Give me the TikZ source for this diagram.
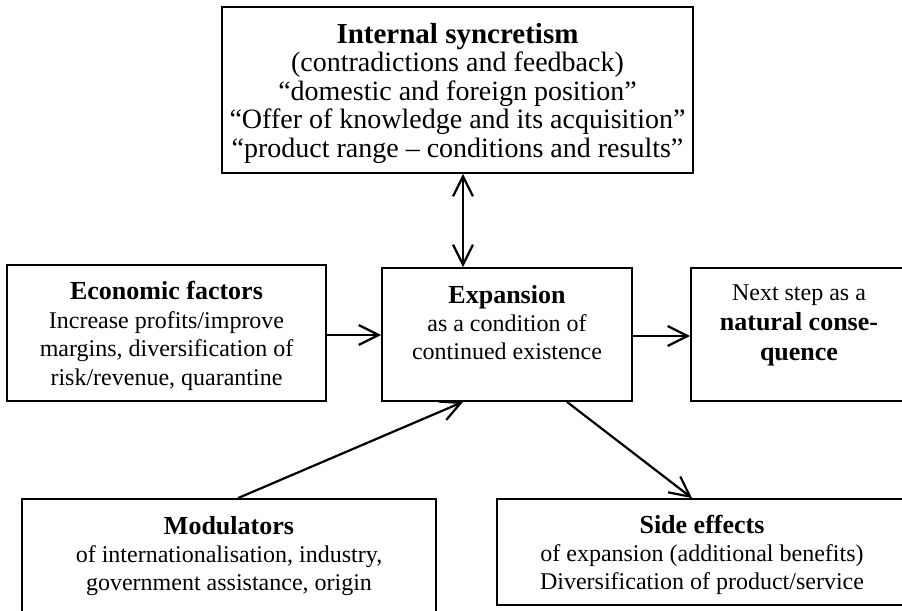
\documentclass[tikz,border=0pt]{standalone}
\usepackage{fontspec}
\setmainfont{Liberation Serif}
\usetikzlibrary{arrows.meta}
\usetikzlibrary{positioning}

\newcommand{\kop}[1]{{\fontsize{13}{14.2}\selectfont\bfseries #1}}
\newcommand{\omhoog}[1]{\rule{0pt}{#1}}
\newcommand{\omlaag}[1]{\rule[-#1]{0pt}{0pt}}

\tikzset{
  blok/.style={draw,line width=0.9pt,inner sep=0pt,align=center,
    font=\fontsize{12}{14.2}\selectfont},
  pijl/.style={line width=1.1pt},
  >={Straight Barb[length=10pt,width=10pt]}
}

\begin{document}
\begin{tikzpicture}[x=0.5pt,y=-0.5pt]
      \useasboundingbox (0,0) rectangle (902,611);
      \node[blok,minimum width=235.5pt,minimum height=83pt,font=\fontsize{14}{14.25}\selectfont] (synch) at (457.5,90)
        {\omhoog{13.3pt}{\fontsize{14.5}{14.25}\selectfont\bfseries Internal syncretism}\\(contradictions and feedback)\\
         “domestic and foreign position”\\“Offer of knowledge and its acquisition”\\“product range – conditions and results”};
      \node[blok,minimum width=159.5pt,minimum height=68pt] (econ) at (166.5,333)
        {\omhoog{12pt}\kop{Economic factors}\\Increase profits/improve\\margins, diversification of\\risk/revenue, quarantine};
      \node[blok,minimum width=125pt,minimum height=66.5pt] (expan) at (507,334.5)
        {\kop{Expansion}\\as a condition of\\continued existence\omlaag{12pt}};
      \node[blok,minimum width=108pt,minimum height=66.5pt,font=\fontsize{12}{15}\selectfont] (next) at (799,334.5)
        {Next step as a\\\kop{natural conse-}\\\kop{quence}\omlaag{12.2pt}};
      \node[blok,minimum width=207pt,minimum height=57pt] (mod) at (229,556)
        {\kop{Modulators}\\of internationalisation, industry,\\government assistance, origin};
      \node[blok,minimum width=205pt,minimum height=53pt] (side) at (702,552)
        {\omhoog{12pt}\kop{Side effects}\\of expansion (additional benefits)\\Diversification of product/service};
      % connectors
      \draw[pijl,<->] ([xshift=2.75pt]synch.south) -- ([xshift=-22pt]expan.north);
      \draw[pijl,->] ([yshift=-1pt]econ.east) -- ([yshift=-1pt]econ.east -| expan.west);
      \draw[pijl,->] ([yshift=-0.75pt]expan.east) -- ([yshift=-0.75pt]expan.east -| next.west);
      \draw[pijl,->] ([xshift=4.5pt]mod.north) -- ([xshift=-22pt]expan.south);
      \draw[pijl,->] ([xshift=30pt]expan.south) -- ([xshift=-5pt]side.north);
\end{tikzpicture}
\end{document}
